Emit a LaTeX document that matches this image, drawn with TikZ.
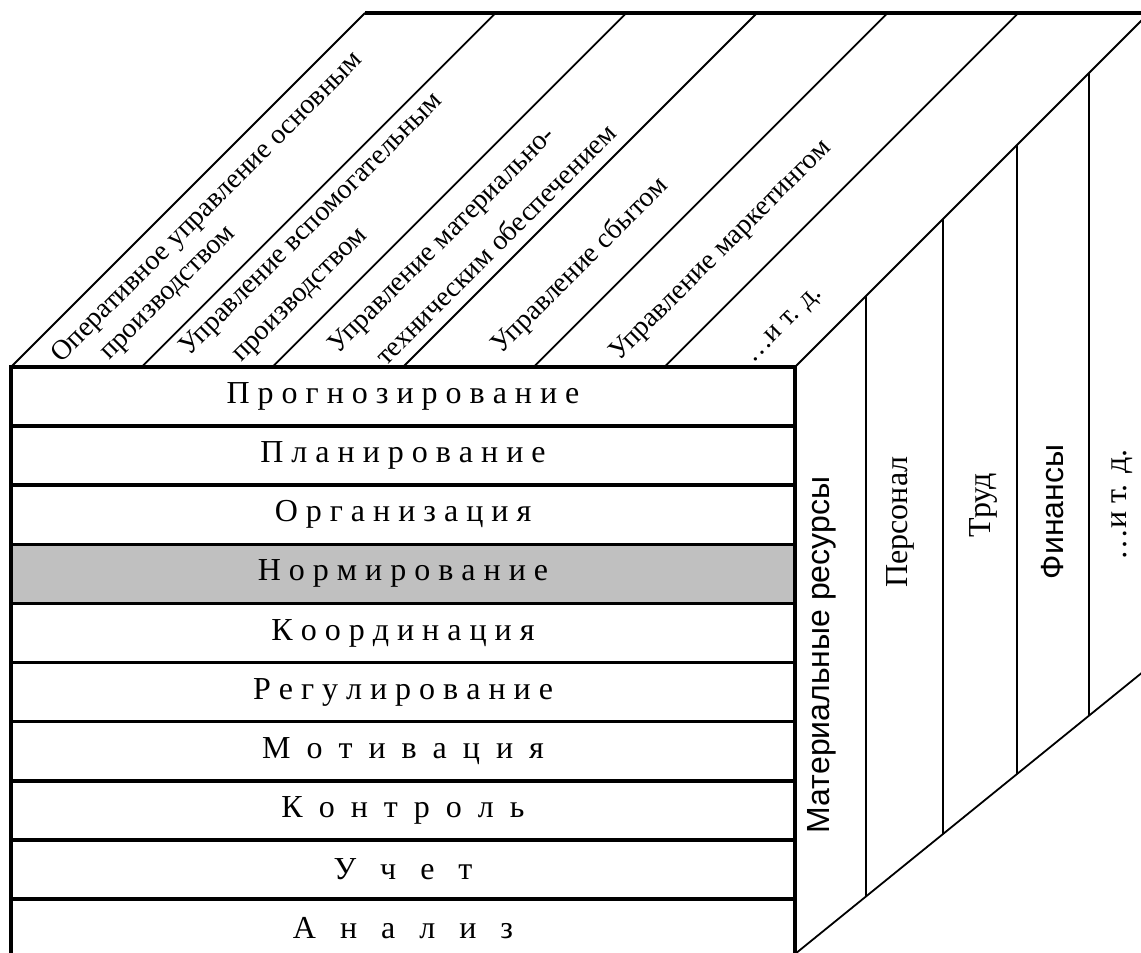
\documentclass[tikz,border=0pt]{standalone}
\usepackage{fontspec}
\setmainfont{Liberation Serif}
\newfontfamily\plainsans{Liberation Sans}
\usetikzlibrary{positioning,calc}
\definecolor{shade}{RGB}{192,192,192}
\tikzset{level/.style={draw,line width=1.8pt,outer sep=0pt,inner sep=0pt,
		minimum width=392pt,minimum height=29.55pt,font=\fontsize{16}{19}\selectfont},
	 spaced/.style={execute at begin node={\spaceskip=#1\relax}},
	 rib/.style={line width=0.9pt},
	 rim/.style={line width=1.8pt},
	 func/.style={rotate=45,inner sep=0pt,font=\fontsize{14}{17}\selectfont},
	 res/.style={rotate=90,inner sep=0pt,font=\fontsize{16}{19}\selectfont},
	 sres/.style={res,font=\plainsans\fontsize{16}{19}\selectfont},
	 node distance = 0pt
	 }

\begin{document}
\begin{tikzpicture}[x=0.5pt,y=-0.5pt] % functions x objects cube
	\useasboundingbox (0,0) rectangle (1141,953);
	\clip (0,0) rectangle (1141,953);
	% front face: management functions
	\node[level,anchor=north west] (r1) at (11,367) {П р о г н о з и р о в а н и е};
	\node[level] (r2) [below=of r1] {П л а н и р о в а н и е};
	\node[level] (r3) [below=of r2] {О р г а н и з а ц и я};
	\node[level,fill=shade] (r4) [below=of r3] {Н о р м и р о в а н и е};
	\node[level] (r5) [below=of r4] {К о о р д и н а ц и я};
	\node[level] (r6) [below=of r5] {Р е г у л и р о в а н и е};
	\node[level,spaced=8pt] (r7) [below=of r6] {М о т и в а ц и я};
	\node[level,spaced=8pt] (r8) [below=of r7] {К о н т р о л ь};
	\node[level,spaced=12pt] (r9) [below=of r8] {У ч е т};
	\node[level,spaced=12pt] (r10) [below=of r9] {А н а л и з};
	% top face
	\coordinate (tl) at (365,13);
	\coordinate (tr) at (1149,13);
	\coordinate (fb) at (795,954);
	\coordinate (bb) at (1149,667);
	\draw[rim] (tl) -- (tr);
	\foreach \i in {0,...,6}
		\draw[rib] ($(r1.north west)!\i/6!(r1.north east)$) -- ++(354,-354);
	\node[func] (s1) at (208,208) {Оперативное управление основным};
	\node[func] (s1b) at (170,295) {производством};
	\node[func] (s2) at (312,225) {Управление вспомогательным};
	\node[func] (s2b) at (302,297) {производством};
	\node[func] (s3) at (443,241) {Управление материально-};
	\node[func] (s3b) at (495,244) {техническим обеспечением};
	\node[func] (s4) at (580,266) {Управление сбытом};
	\node[func] (s5) at (721,251) {Управление маркетингом};
	\node[func] (s6) at (785,326) {…и т. д.};
	% right face: resources
	\draw[rib] (fb) -- (bb);
	\draw[rib] (tr) -- (bb);
	\foreach \f in {0.2,0.418,0.627,0.83}
		\draw[rib] ($(r1.north east)!\f!(tr)$) -- ($(fb)!\f!(bb)$);
	\node[sres] (o1) at (822,655) {Материальные ресурсы};
	\node[res] (o2) at (900,522) {Персонал};
	\node[res] (o3) at (983,505) {Труд};
	\node[sres] (o4) at (1053,512) {Финансы};
	\node[res] (o5) at (1122,505) {…и т. д.};
\end{tikzpicture}
\end{document}
